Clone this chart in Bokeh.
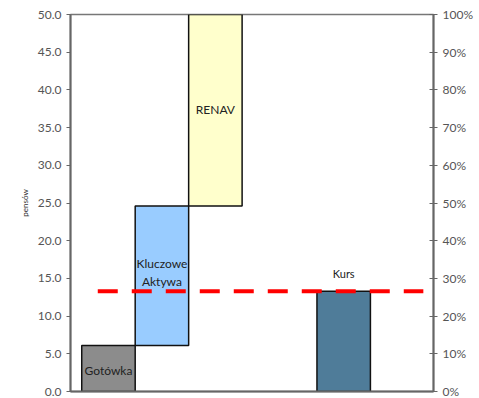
from bokeh.plotting import figure
from bokeh.models import Range1d, LinearAxis, NumeralTickFormatter, FixedTicker, ColumnDataSource
from bokeh.core.properties import value
from bokeh.embed import file_html
from bokeh.resources import INLINE

# Wartość aktywów na akcję (pensów) - wykres kaskadowy
labels = ["Gotówka", "Kluczowe\nAktywa", "RENAV", "Kurs"]
values = [6.1, 18.5, 25.4, 13.3]
bottoms = [0.0, 6.1, 24.6, 0.0]
colors = ["#8c8c8c", "#99ccff", "#ffffcc", "#4f7c99"]
slots = [0, 1, 2, 4.4]

left_ticks = [0, 5, 10, 15, 20, 25, 30, 35, 40, 45, 50]
right_ticks = [0, 0.1, 0.2, 0.3, 0.4, 0.5, 0.6, 0.7, 0.8, 0.9, 1.0]

FONT = "Lato"
kurs = values[3]

tops = [b + v for b, v in zip(bottoms, values)]
src = ColumnDataSource(dict(x=slots, bottom=bottoms, top=tops, color=colors))

p = figure(width=479, height=398, output_backend="svg", toolbar_location=None,
           x_range=Range1d(-0.71, 6.08), y_range=Range1d(0, 50),
           min_border_left=70, min_border_right=46, min_border_top=14, min_border_bottom=7,
           background_fill_color="white", border_fill_color="white")
p.xgrid.visible = False
p.ygrid.visible = False
p.outline_line_color = "#777777"
p.outline_line_width = 1.5

p.vbar(x="x", bottom="bottom", top="top", width=1.0, fill_color="color",
       line_color="#111111", line_width=1.5, source=src)

# linia kursu
p.segment(x0=[-0.2], x1=[5.89], y0=[kurs], y1=[kurs], line_color="#ff0000",
          line_width=4, line_dash="20 14")

# etykiety słupków
lab_x = [slots[0], slots[1], slots[1], slots[2], slots[3]]
lab_y = [bottoms[0] + values[0] / 2 - 0.2, tops[1] - 7.6, tops[1] - 10.0,
         bottoms[2] + 12.8, tops[3] + 2.4]
lab_t = ["Gotówka", "Kluczowe", "Aktywa", "RENAV", "Kurs"]
lab_s = ["12px", "12px", "12px", "12px", "11px"]
p.text(x=lab_x, y=lab_y, text=lab_t, text_align="center", text_baseline="middle",
       text_font=value(FONT), text_font_size=lab_s, text_color="#222222")

# osie
p.xaxis.visible = False
p.yaxis.ticker = FixedTicker(ticks=left_ticks)
p.yaxis.formatter = NumeralTickFormatter(format="0.0")
p.yaxis.axis_label = "pensów"
p.yaxis.axis_label_text_font = FONT
p.yaxis.axis_label_text_font_size = "8px"
p.yaxis.axis_label_text_font_style = "normal"
p.yaxis.axis_label_text_color = "#333333"
p.yaxis.major_label_text_font = FONT
p.yaxis.major_label_text_font_size = "12px"
p.yaxis.major_label_text_color = "#555555"
p.yaxis.axis_line_color = "#666666"
p.yaxis.axis_line_width = 2
p.yaxis.major_tick_line_color = "#666666"
p.yaxis.major_tick_in = 0
p.yaxis.major_tick_out = 4
p.yaxis.minor_tick_line_color = None

p.extra_y_ranges = {"pct": Range1d(0, 1)}
ax2 = LinearAxis(y_range_name="pct", ticker=FixedTicker(ticks=right_ticks),
                 formatter=NumeralTickFormatter(format="0%"))
ax2.major_label_text_font = FONT
ax2.major_label_text_font_size = "12px"
ax2.major_label_text_color = "#555555"
ax2.axis_line_color = "#666666"
ax2.axis_line_width = 2
ax2.major_tick_line_color = "#666666"
ax2.major_tick_in = 4
ax2.major_tick_out = 4
ax2.minor_tick_line_color = None
p.add_layout(ax2, "right")

bottom_axis = LinearAxis(ticker=FixedTicker(ticks=[]), major_label_text_font_size="0px")
bottom_axis.axis_line_color = "#666666"
bottom_axis.axis_line_width = 2
p.add_layout(bottom_axis, "below")

open("out.html", "w").write(file_html(p, INLINE))
